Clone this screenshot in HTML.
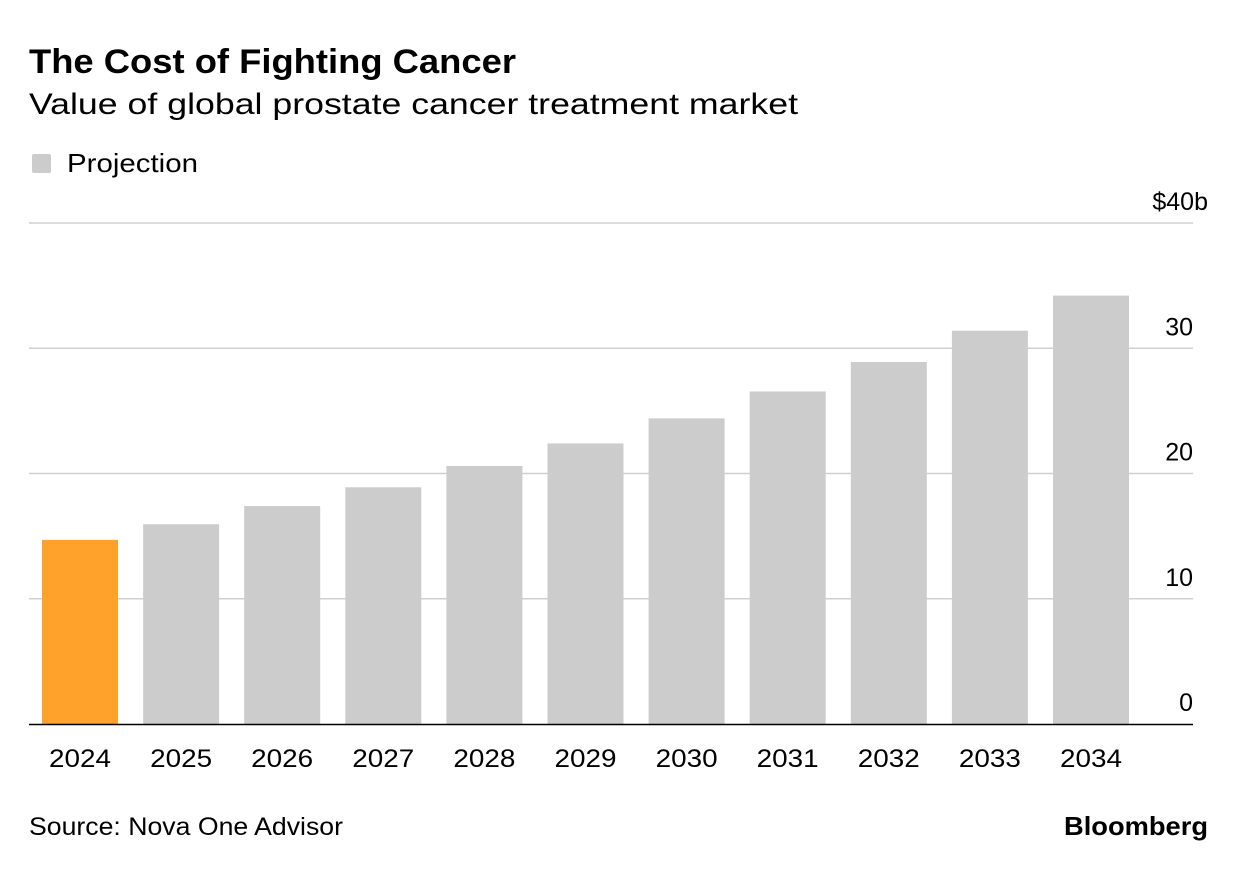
<!DOCTYPE html>
<html><head><meta charset="utf-8"><style>
body{margin:0;background:#fff;width:1237px;height:868px;overflow:hidden;font-family:"Liberation Sans",sans-serif;color:#000}
</style></head><body>
<svg width="1237" height="868">
<text x="29" y="73" font-size="34" font-weight="bold" textLength="487" lengthAdjust="spacingAndGlyphs">The Cost of Fighting Cancer</text>
<text x="29" y="114" font-size="30" textLength="769" lengthAdjust="spacingAndGlyphs">Value of global prostate cancer treatment market</text>
<rect x="32" y="154" width="19" height="19" rx="2" fill="#cccccc"/>
<text x="67" y="172" font-size="26" textLength="131" lengthAdjust="spacingAndGlyphs">Projection</text>
<g id="grid"></g><g id="bars"></g><g id="xl"></g>
<line x1="29" x2="1193" y1="724.5" y2="724.5" stroke="#000" stroke-width="1.5"/>
<text x="29" y="835" font-size="25" textLength="314" lengthAdjust="spacingAndGlyphs">Source: Nova One Advisor</text>
<text x="1064" y="835" font-size="26" font-weight="bold" textLength="144" lengthAdjust="spacingAndGlyphs">Bloomberg</text>
</svg>
<script>
const years=["2024","2025","2026","2027","2028","2029","2030","2031","2032","2033","2034"];
const values=[14.7,15.95,17.4,18.9,20.6,22.4,24.4,26.55,28.9,31.4,34.2];
const ticks=[0,10,20,30,40];
const tickLabels=["0","10","20","30","$40b"];
const ns="http://www.w3.org/2000/svg";
const y=v=>724-v*12.525;
const x=i=>42+i*101.1;
function mk(t,a,p){const e=document.createElementNS(ns,t);for(const k in a)e.setAttribute(k,a[k]);p.appendChild(e);return e;}
const g=document.getElementById('grid'),b=document.getElementById('bars'),xl=document.getElementById('xl');
ticks.forEach((t,i)=>{
 if(t>0){const l=mk('line',{x1:29,x2:1193,y1:y(t),y2:y(t),stroke:'#d0d0d0','stroke-width':1.5},g);
 
 }
 const last=i===ticks.length-1;
 const tx=mk('text',{x:last?1208:1193,y:y(t)-13,'font-size':25,'text-anchor':'end'},g);tx.textContent=tickLabels[i];
 
 
});
years.forEach((yr,i)=>{
 const r=mk('rect',{x:x(i),y:y(values[i]),width:76,height:724-y(values[i]),fill:i==0?'#ffa22c':'#cccccc'},b);
 
 
 const t=mk('text',{x:x(i)+38,y:767,'font-size':25,'text-anchor':'middle',textLength:62,lengthAdjust:'spacingAndGlyphs'},xl);t.textContent=yr;
 
 
});
</script>
</body></html>
